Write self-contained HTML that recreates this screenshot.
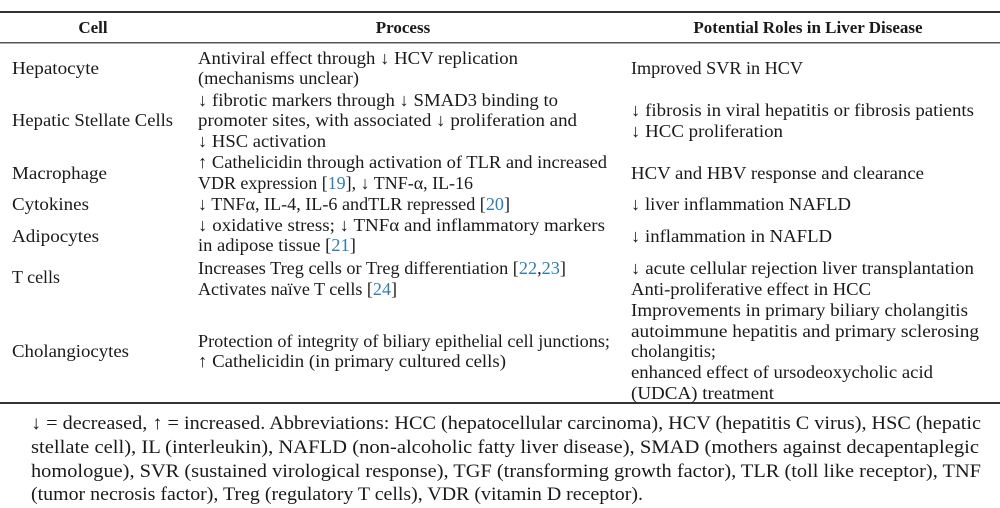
<!DOCTYPE html>
<html><head><meta charset="utf-8"><style>
html,body{margin:0;padding:0;background:#fff;}
svg{display:block;}
text{font-family:"Liberation Serif",serif;font-size:18px;fill:#1a1a1a;}
.h{font-weight:bold;font-size:17px;}
.f{font-size:19px;}
.b{fill:#2f7fb5;}
</style></head><body>
<svg width="1000" height="508" viewBox="0 0 1000 508" xmlns="http://www.w3.org/2000/svg">
<rect x="0" y="11" width="1000" height="2" fill="#333"/>
<rect x="0" y="42" width="1000" height="1.5" fill="#555"/>
<rect x="0" y="402" width="1000" height="2" fill="#333"/>
<text class="h" x="93" y="33" text-anchor="middle">Cell</text>
<text class="h" x="403" y="33" text-anchor="middle">Process</text>
<text class="h" x="808" y="33" text-anchor="middle">Potential Roles in Liver Disease</text>

<text x="12" y="74" textLength="87" lengthAdjust="spacingAndGlyphs">Hepatocyte</text>
<text x="12" y="126" textLength="161" lengthAdjust="spacingAndGlyphs">Hepatic Stellate Cells</text>
<text x="12" y="179" textLength="95" lengthAdjust="spacingAndGlyphs">Macrophage</text>
<text x="12" y="210" textLength="77" lengthAdjust="spacingAndGlyphs">Cytokines</text>
<text x="12" y="242" textLength="87" lengthAdjust="spacingAndGlyphs">Adipocytes</text>
<text x="12" y="283" textLength="48" lengthAdjust="spacingAndGlyphs">T cells</text>
<text x="12" y="357" textLength="117" lengthAdjust="spacingAndGlyphs">Cholangiocytes</text>

<text x="198" y="64" textLength="320" lengthAdjust="spacingAndGlyphs">Antiviral effect through ↓ HCV replication</text>
<text x="198" y="84" textLength="161" lengthAdjust="spacingAndGlyphs">(mechanisms unclear)</text>
<text x="198" y="106" textLength="360" lengthAdjust="spacingAndGlyphs">↓ fibrotic markers through ↓ SMAD3 binding to</text>
<text x="198" y="126" textLength="379" lengthAdjust="spacingAndGlyphs">promoter sites, with associated ↓ proliferation and</text>
<text x="198" y="147" textLength="128" lengthAdjust="spacingAndGlyphs">↓ HSC activation</text>
<text x="198" y="168" textLength="409" lengthAdjust="spacingAndGlyphs">↑ Cathelicidin through activation of TLR and increased</text>
<text x="198" y="189" textLength="275" lengthAdjust="spacingAndGlyphs">VDR expression [<tspan class="b">19</tspan>], ↓ TNF-α, IL-16</text>
<text x="198" y="210" textLength="312" lengthAdjust="spacingAndGlyphs">↓ TNFα, IL-4, IL-6 andTLR repressed [<tspan class="b">20</tspan>]</text>
<text x="198" y="231" textLength="407" lengthAdjust="spacingAndGlyphs">↓ oxidative stress; ↓ TNFα and inflammatory markers</text>
<text x="198" y="251" textLength="158" lengthAdjust="spacingAndGlyphs">in adipose tissue [<tspan class="b">21</tspan>]</text>
<text x="198" y="274" textLength="368" lengthAdjust="spacingAndGlyphs">Increases Treg cells or Treg differentiation [<tspan class="b">22</tspan>,<tspan class="b">23</tspan>]</text>
<text x="198" y="295" textLength="199" lengthAdjust="spacingAndGlyphs">Activates naïve T cells [<tspan class="b">24</tspan>]</text>
<text x="198" y="347" textLength="412" lengthAdjust="spacingAndGlyphs">Protection of integrity of biliary epithelial cell junctions;</text>
<text x="198" y="367" textLength="308" lengthAdjust="spacingAndGlyphs">↑ Cathelicidin (in primary cultured cells)</text>

<text x="631" y="74" textLength="172" lengthAdjust="spacingAndGlyphs">Improved SVR in HCV</text>
<text x="631" y="116" textLength="343" lengthAdjust="spacingAndGlyphs">↓ fibrosis in viral hepatitis or fibrosis patients</text>
<text x="631" y="137" textLength="152" lengthAdjust="spacingAndGlyphs">↓ HCC proliferation</text>
<text x="631" y="179" textLength="293" lengthAdjust="spacingAndGlyphs">HCV and HBV response and clearance</text>
<text x="631" y="210" textLength="220" lengthAdjust="spacingAndGlyphs">↓ liver inflammation NAFLD</text>
<text x="631" y="242" textLength="201" lengthAdjust="spacingAndGlyphs">↓ inflammation in NAFLD</text>
<text x="631" y="274" textLength="343" lengthAdjust="spacingAndGlyphs">↓ acute cellular rejection liver transplantation</text>
<text x="631" y="295" textLength="240" lengthAdjust="spacingAndGlyphs">Anti-proliferative effect in HCC</text>
<text x="631" y="316" textLength="337" lengthAdjust="spacingAndGlyphs">Improvements in primary biliary cholangitis</text>
<text x="631" y="337" textLength="348" lengthAdjust="spacingAndGlyphs">autoimmune hepatitis and primary sclerosing</text>
<text x="631" y="357" textLength="85" lengthAdjust="spacingAndGlyphs">cholangitis;</text>
<text x="631" y="378" textLength="302" lengthAdjust="spacingAndGlyphs">enhanced effect of ursodeoxycholic acid</text>
<text x="631" y="399" textLength="143" lengthAdjust="spacingAndGlyphs">(UDCA) treatment</text>

<text class="f" x="31" y="429" textLength="950" lengthAdjust="spacingAndGlyphs">↓ = decreased, ↑ = increased.  Abbreviations: HCC (hepatocellular carcinoma), HCV (hepatitis C virus), HSC (hepatic</text>
<text class="f" x="31" y="453" textLength="948" lengthAdjust="spacingAndGlyphs">stellate cell), IL (interleukin), NAFLD (non-alcoholic fatty liver disease), SMAD (mothers against decapentaplegic</text>
<text class="f" x="31" y="477" textLength="950" lengthAdjust="spacingAndGlyphs">homologue), SVR (sustained virological response), TGF (transforming growth factor), TLR (toll like receptor), TNF</text>
<text class="f" x="31" y="500" textLength="612" lengthAdjust="spacingAndGlyphs">(tumor necrosis factor), Treg (regulatory T cells), VDR (vitamin D receptor).</text>
</svg>
</body></html>
